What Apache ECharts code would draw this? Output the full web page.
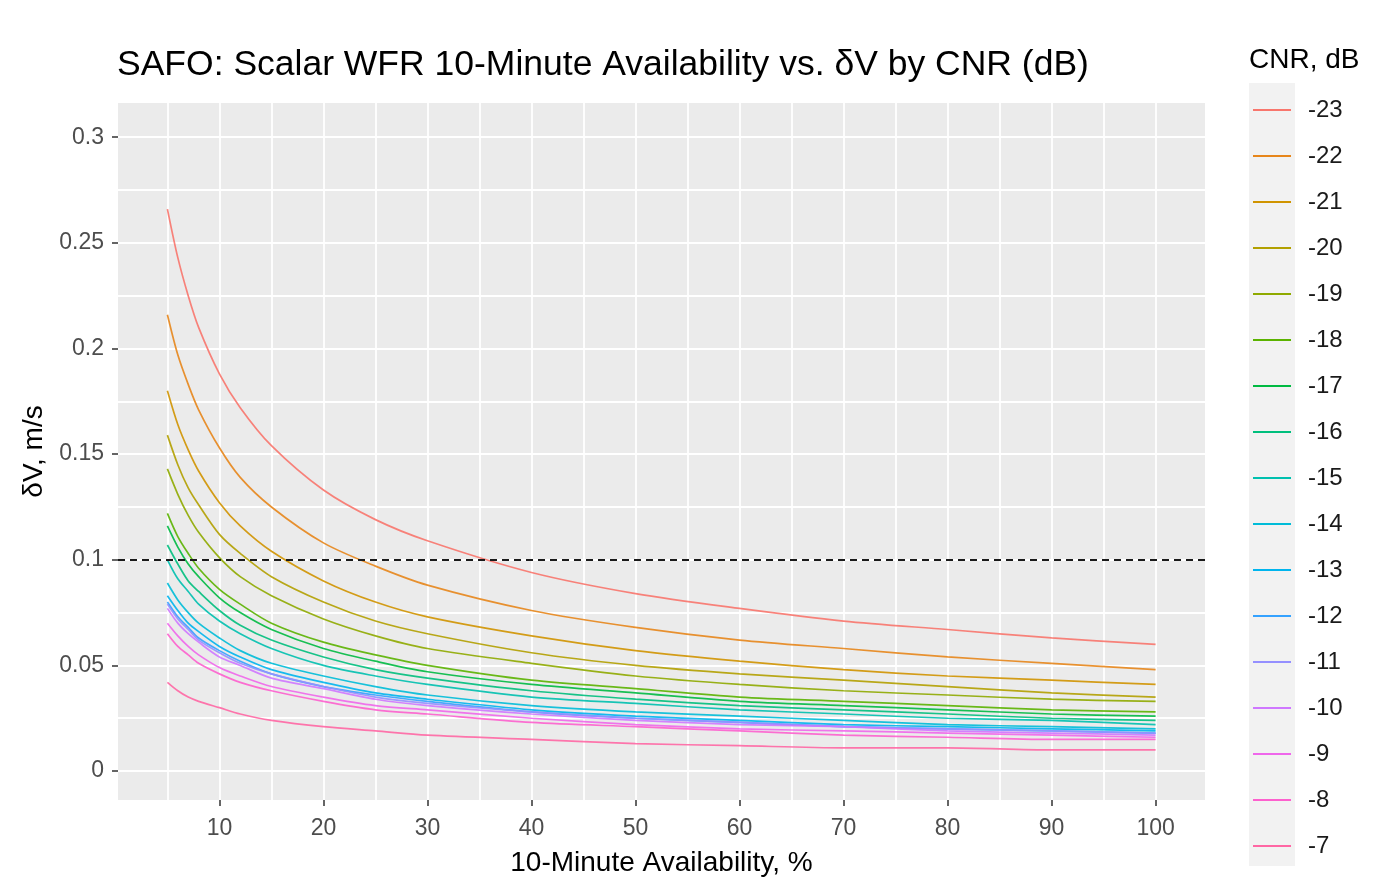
<!DOCTYPE html>
<html>
<head>
<meta charset="utf-8">
<title>SAFO: Scalar WFR 10-Minute Availability vs. dV by CNR</title>
<script src="https://cdn.jsdelivr.net/npm/echarts@6/dist/echarts.min.js"></script>
</head>
<body style="margin:0;background:#fff">
<div id="chart" style="width:1399px;height:882px;"></div>
<script>
// x values (10-minute availability, %)
var availability = [5, 6, 7, 8, 10, 12, 15, 20, 25, 30, 40, 50, 60, 70, 80, 90, 100];
var cnrLevels = ['-23', '-22', '-21', '-20', '-19', '-18', '-17', '-16', '-15',
                 '-14', '-13', '-12', '-11', '-10', '-9', '-8', '-7'];

// dV, m/s, one array per CNR level
var dvCnr23 = [0.266, 0.243, 0.225, 0.210, 0.188, 0.172, 0.154, 0.133, 0.119, 0.109, 0.094, 0.084, 0.077, 0.071, 0.067, 0.063, 0.060];
var dvCnr22 = [0.216, 0.197, 0.183, 0.171, 0.153, 0.139, 0.125, 0.108, 0.097, 0.088, 0.076, 0.068, 0.062, 0.058, 0.054, 0.051, 0.048];
var dvCnr21 = [0.180, 0.164, 0.152, 0.142, 0.127, 0.116, 0.104, 0.090, 0.080, 0.073, 0.064, 0.057, 0.052, 0.048, 0.045, 0.043, 0.041];
var dvCnr20 = [0.159, 0.145, 0.134, 0.126, 0.112, 0.103, 0.092, 0.080, 0.071, 0.065, 0.056, 0.050, 0.046, 0.043, 0.040, 0.037, 0.035];
var dvCnr19 = [0.143, 0.131, 0.121, 0.113, 0.101, 0.092, 0.083, 0.072, 0.064, 0.058, 0.051, 0.045, 0.041, 0.038, 0.036, 0.034, 0.033];
var dvCnr18 = [0.122, 0.111, 0.103, 0.096, 0.086, 0.079, 0.070, 0.061, 0.055, 0.050, 0.043, 0.039, 0.035, 0.033, 0.031, 0.029, 0.028];
var dvCnr17 = [0.116, 0.106, 0.098, 0.092, 0.082, 0.075, 0.067, 0.058, 0.052, 0.047, 0.041, 0.037, 0.033, 0.031, 0.029, 0.027, 0.026];
var dvCnr16 = [0.107, 0.098, 0.090, 0.085, 0.076, 0.069, 0.062, 0.054, 0.048, 0.044, 0.038, 0.034, 0.031, 0.029, 0.027, 0.025, 0.024];
var dvCnr15 = [0.100, 0.091, 0.085, 0.079, 0.071, 0.065, 0.058, 0.050, 0.045, 0.041, 0.035, 0.032, 0.029, 0.027, 0.025, 0.024, 0.022];
var dvCnr14 = [0.089, 0.081, 0.075, 0.070, 0.063, 0.057, 0.051, 0.045, 0.040, 0.036, 0.031, 0.028, 0.026, 0.024, 0.022, 0.021, 0.020];
var dvCnr13 = [0.083, 0.076, 0.070, 0.066, 0.059, 0.054, 0.048, 0.042, 0.037, 0.034, 0.029, 0.026, 0.024, 0.022, 0.021, 0.020, 0.019];
var dvCnr12 = [0.080, 0.073, 0.068, 0.063, 0.057, 0.052, 0.046, 0.040, 0.036, 0.033, 0.028, 0.025, 0.023, 0.021, 0.020, 0.019, 0.018];
var dvCnr11 = [0.079, 0.072, 0.067, 0.062, 0.056, 0.051, 0.046, 0.040, 0.035, 0.032, 0.028, 0.025, 0.023, 0.021, 0.020, 0.019, 0.018];
var dvCnr10 = [0.077, 0.070, 0.065, 0.061, 0.054, 0.050, 0.044, 0.039, 0.034, 0.031, 0.027, 0.024, 0.022, 0.021, 0.019, 0.018, 0.017];
var dvCnr9  = [0.070, 0.064, 0.059, 0.055, 0.049, 0.045, 0.040, 0.035, 0.031, 0.029, 0.025, 0.022, 0.020, 0.019, 0.018, 0.017, 0.016];
var dvCnr8  = [0.065, 0.059, 0.055, 0.051, 0.046, 0.042, 0.038, 0.033, 0.029, 0.027, 0.023, 0.021, 0.019, 0.017, 0.016, 0.015, 0.015];
var dvCnr7  = [0.042, 0.038, 0.035, 0.033, 0.030, 0.027, 0.024, 0.021, 0.019, 0.017, 0.015, 0.013, 0.012, 0.011, 0.011, 0.010, 0.010];

var dvSeries = [dvCnr23, dvCnr22, dvCnr21, dvCnr20, dvCnr19, dvCnr18, dvCnr17, dvCnr16, dvCnr15,
                dvCnr14, dvCnr13, dvCnr12, dvCnr11, dvCnr10, dvCnr9, dvCnr8, dvCnr7];

var threshold = 0.1;

// axis ticks / grid lines
var xLabelTicks = [10, 20, 30, 40, 50, 60, 70, 80, 90, 100];
var xGridTicks = [5, 10, 15, 20, 25, 30, 35, 40, 45, 50, 55, 60, 65, 70, 75, 80, 85, 90, 95, 100];
var yLabelTicks = [0, 0.05, 0.1, 0.15, 0.2, 0.25, 0.3];
var yGridTicks = [0, 0.025, 0.05, 0.075, 0.1, 0.125, 0.15, 0.175, 0.2, 0.225, 0.25, 0.275, 0.3];

// ggplot style hue palette
var colors = ['#F8766D', '#E7861B', '#D09400', '#B2A000', '#8FAA00', '#5BB300', '#00BA42', '#00BF7D', '#00C0AF',
              '#00BCD8', '#00B5EE', '#35A2FF', '#9590FF', '#CF78FF', '#EF67EB', '#FD61CE', '#FF67A4'];

var font = 'Liberation Sans, Arial, sans-serif';
var chart = echarts.init(document.getElementById('chart'));

var series = cnrLevels.map(function (name, i) {
    var s = {
        name: name,
        type: 'line',
        symbol: 'none',
        showSymbol: false,
        smooth: 0.3,
        color: colors[i],
        lineStyle: { width: 1.7, color: colors[i], opacity: 0.9 },
        emphasis: { disabled: true },
        data: availability.map(function (x, j) { return [x, dvSeries[i][j]]; })
    };
    if (i === 0) {
        s.markLine = {
            silent: true,
            symbol: ['none', 'none'],
            label: { show: false },
            lineStyle: { type: [7, 5], color: '#1a1a1a', width: 1.8, opacity: 1 },
            data: [{ yAxis: threshold }]
        };
    }
    return s;
});

var option = {
    animation: false,
    textStyle: { fontFamily: font },
    title: [
        {
            text: 'SAFO: Scalar WFR 10-Minute Availability vs. \u03B4V by CNR (dB)',
            left: 117, top: 47, padding: 0,
            textStyle: { fontSize: 35.5, fontWeight: 'normal', color: '#000', fontFamily: font }
        },
        {
            text: 'CNR, dB',
            left: 1249, top: 46, padding: 0,
            textStyle: { fontSize: 28, fontWeight: 'normal', color: '#000', fontFamily: font }
        }
    ],
    graphic: [{
        type: 'rect', left: 1249, top: 83, z: -1,
        shape: { width: 46, height: 783 },
        style: { fill: '#F2F2F2' }
    }],
    legend: {
        data: cnrLevels,
        orient: 'vertical',
        left: 1253, top: 97,
        padding: 0,
        icon: 'rect',
        itemWidth: 38, itemHeight: 2, itemGap: 20,
        textStyle: { fontSize: 24, color: '#1a1a1a', lineHeight: 26, padding: [0, 0, 0, 12], fontFamily: font }
    },
    grid: {
        left: 118, right: 194, top: 103, bottom: 82,
        show: true, backgroundColor: '#EBEBEB', borderWidth: 0,
        containLabel: false, outerBoundsMode: 'none'
    },
    xAxis: [
        {
            type: 'value', min: 0.25, max: 104.75, position: 'bottom',
            axisLine: { show: false, onZero: false },
            axisTick: { show: false, customValues: xGridTicks },
            axisLabel: { show: false, customValues: xGridTicks },
            splitLine: { show: true, lineStyle: { color: '#fff', width: 1.8 } }
        },
        {
            type: 'value', min: 0.25, max: 104.75, position: 'bottom',
            axisLine: { show: false, onZero: false },
            axisTick: { show: true, customValues: xLabelTicks, length: 6, lineStyle: { color: '#333', width: 1.5 } },
            axisLabel: { customValues: xLabelTicks, color: '#4D4D4D', fontSize: 23, margin: 17, fontFamily: font },
            splitLine: { show: false },
            name: '10-Minute Availability, %',
            nameLocation: 'middle', nameGap: 49,
            nameTextStyle: { fontSize: 28, color: '#000', fontFamily: font }
        }
    ],
    yAxis: [
        {
            type: 'value', min: -0.0137, max: 0.3162, position: 'left',
            axisLine: { show: false, onZero: false },
            axisTick: { show: false, customValues: yGridTicks },
            axisLabel: { show: false, customValues: yGridTicks },
            splitLine: { show: true, lineStyle: { color: '#fff', width: 1.8 } }
        },
        {
            type: 'value', min: -0.0137, max: 0.3162, position: 'left',
            axisLine: { show: false, onZero: false },
            axisTick: { show: true, customValues: yLabelTicks, length: 6, lineStyle: { color: '#333', width: 1.5 } },
            axisLabel: {
                customValues: yLabelTicks, color: '#4D4D4D', fontSize: 23, margin: 14, fontFamily: font,
                formatter: function (v) { return String(parseFloat(v.toFixed(3))); }
            },
            splitLine: { show: false },
            name: '\u03B4V, m/s',
            nameLocation: 'middle', nameGap: 70, nameRotate: 90,
            nameTextStyle: { fontSize: 28, color: '#000', fontFamily: font }
        }
    ],
    series: series
};

chart.setOption(option);
</script>
</body>
</html>
